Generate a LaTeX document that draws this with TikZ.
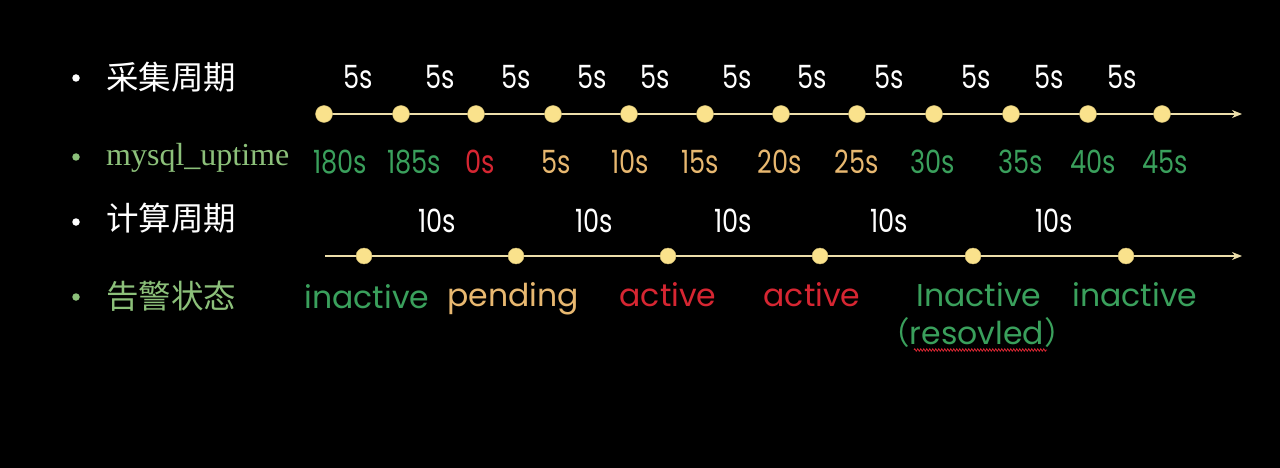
\documentclass[tikz,border=0pt]{standalone}
\usepackage{fontspec}
\usetikzlibrary{arrows.meta,decorations.pathmorphing}
\newfontfamily\cjk{Noto Sans CJK SC}
\newfontfamily\ser{Liberation Serif}
\newfontfamily\numf[FakeStretch=0.8]{Poppins}
\newfontfamily\wordf{Poppins}
\definecolor{okgreen}{RGB}{58,160,92}
\definecolor{warnorange}{RGB}{232,184,112}
\definecolor{alertred}{RGB}{214,38,50}
\definecolor{labgreen}{RGB}{140,192,122}
\definecolor{dotfill}{RGB}{250,226,140}
\definecolor{axiscol}{RGB}{236,222,170}
\tikzset{
  dotnode/.style={circle,fill=dotfill,draw=dotfill!80!black,line width=0.4pt,minimum size=17pt,inner sep=0pt},
  axisline/.style={axiscol,line width=1.8pt,-{Stealth[length=10pt,width=8pt]}},
  bulletw/.style={circle,fill=white,minimum size=7.5pt,inner sep=0pt},
  bulletg/.style={circle,fill=labgreen,minimum size=7.5pt,inner sep=0pt},
  catlab/.style={anchor=west,inner sep=0pt,font=\cjk\fontsize{32.5}{32.5}\selectfont},
  numlab/.style={anchor=base,inner sep=0pt,font=\numf\fontsize{32}{32}\selectfont},
  statelab/.style={anchor=base,inner sep=0pt,font=\wordf\fontsize{31.5}{31.5}\selectfont},
}
\begin{document}
\begin{tikzpicture}[x=1pt,y=-1pt]
\fill[black] (0,0) rectangle (1280,468);
\useasboundingbox (0,0) rectangle (1280,468);

% row labels
\node[bulletw] (b1) at (76,78) {};
\node[catlab,white] (l1) at (106,77) {采集周期};
\node[bulletg] (b2) at (76,157) {};
\node[catlab,anchor=base west,labgreen,font=\ser\fontsize{32}{32}\selectfont] (l2) at (106,165) {mysql\_uptime};
\node[bulletw] (b3) at (76,222) {};
\node[catlab,white] (l3) at (106,218) {计算周期};
\node[bulletg] (b4) at (76,297) {};
\node[catlab,labgreen] (l4) at (106,296) {告警状态};

% collection axis
\coordinate (a1end) at (1242,116);
\foreach \i/\x in {1/324,2/401,3/476,4/553,5/629,6/705,7/781,8/857,9/934,10/1011,11/1088,12/1162}{
  \coordinate (c\i) at (\x,114);
}
\draw[axisline] (c1) -- (a1end |- c1);
\foreach \i in {1,...,12}{ \node[dotnode] (cd\i) at (c\i) {}; }

% 5s labels
\foreach \x in {358,440,516,592,655,737,812,889,976,1049,1122}{
  \node[numlab,white] at (\x,89) {5s};
}

% uptime values
\node[numlab,okgreen] (u1) at (340,173) {180s};
\node[numlab,okgreen] (u2) at (414,173) {185s};
\node[numlab,alertred] (u3) at (480,173) {0s};
\node[numlab,warnorange] (u4) at (556,173) {5s};
\node[numlab,warnorange] (u5) at (630,173) {10s};
\node[numlab,warnorange] (u6) at (700,173) {15s};
\node[numlab,warnorange] (u7) at (780,173) {20s};
\node[numlab,warnorange] (u8) at (857,173) {25s};
\node[numlab,okgreen] (u9) at (933,173) {30s};
\node[numlab,okgreen] (u10) at (1021,173) {35s};
\node[numlab,okgreen] (u11) at (1093,173) {40s};
\node[numlab,okgreen] (u12) at (1165,173) {45s};

% evaluation axis
\coordinate (a2start) at (325,256);
\coordinate (a2end) at (1242,257);
\draw[axisline] (a2start) -- (a2end |- a2start);
\foreach \i/\x in {1/364,2/516,3/668,4/820,5/973,6/1126}{
  \node[dotnode,minimum size=16pt] (e\i) at (\x,256) {};
}
\foreach \x in {437,594,733,889,1054}{
  \node[numlab,white] at (\x,232) {10s};
}

% alert states
\node[statelab,okgreen] (s1) at (367,308) {inactive};
\node[statelab,warnorange] (s2) at (513,306) {pending};
\node[statelab,alertred] (s3) at (668,306) {active};
\node[statelab,alertred] (s4) at (812,306) {active};
\node[statelab,okgreen] (s5) at (979,306) {Inactive};
\node[statelab,okgreen] (s6) at (1135,306) {inactive};
\node[statelab,okgreen] (s7) at (977,344) {{\cjk （}resovled{\cjk ）}};
\coordinate (sq1) at (914,350);
\coordinate (sq2) at (1047,350);
\draw[alertred,line width=0.8pt,decorate,decoration={zigzag,amplitude=1.2pt,segment length=3pt}] (sq1) -- (sq2);
\end{tikzpicture}
\end{document}
